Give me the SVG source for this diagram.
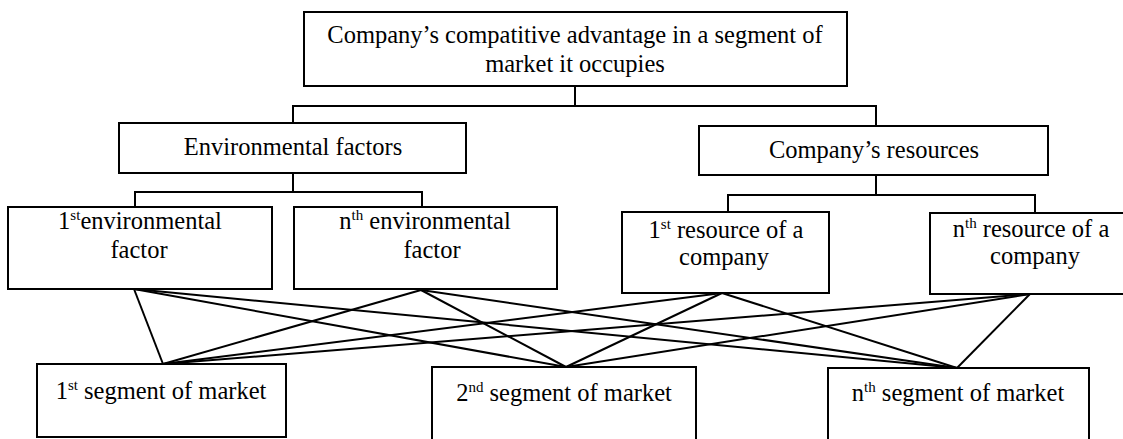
<svg xmlns="http://www.w3.org/2000/svg" width="1123" height="439" viewBox="0 0 1123 439">
  <style>
    .box { fill: #fff; stroke: #000; stroke-width: 2; }
    .wire { fill: none; stroke: #000; stroke-width: 2; }
    .lbl { font-family: "Liberation Serif", "Times New Roman", Times, "DejaVu Serif", serif; font-size: 24.5px; fill: #000; text-anchor: middle; }
    .sup { font-size: 15px; }
  </style>
  <rect width="1123" height="439" fill="#fff"/>

  <!-- hierarchy and cross connections -->
  <g id="connectors" class="wire">
    <polyline points="575,86 575,106"/>
    <polyline points="293,123 293,106 876,106 876,126"/>
    <polyline points="293,173 293,192"/>
    <polyline points="135,207 135,192 422,192 422,207"/>
    <polyline points="876,175 876,195"/>
    <polyline points="728,212 728,195 1035,195 1035,213"/>
    <!-- each factor / resource linked to every market segment -->
    <line x1="134" y1="289" x2="163" y2="364"/>
    <line x1="134" y1="289" x2="566" y2="367"/>
    <line x1="134" y1="289" x2="957" y2="368"/>
    <line x1="421" y1="290" x2="163" y2="364"/>
    <line x1="421" y1="290" x2="566" y2="367"/>
    <line x1="421" y1="290" x2="957" y2="368"/>
    <line x1="722" y1="293" x2="163" y2="364"/>
    <line x1="722" y1="293" x2="566" y2="367"/>
    <line x1="722" y1="293" x2="957" y2="368"/>
    <line x1="1030" y1="294" x2="163" y2="364"/>
    <line x1="1030" y1="294" x2="566" y2="367"/>
    <line x1="1030" y1="294" x2="957" y2="368"/>
  </g>

  <g id="advantage">
    <rect class="box" x="304" y="12" width="543" height="74"/>
    <text class="lbl" x="575" y="43">Company’s compatitive advantage in a segment of</text>
    <text class="lbl" x="575" y="72">market it occupies</text>
  </g>

  <g id="environmental-factors">
    <rect class="box" x="119" y="123" width="347" height="50"/>
    <text class="lbl" x="293" y="155">Environmental factors</text>
  </g>

  <g id="company-resources">
    <rect class="box" x="699" y="126" width="349" height="49"/>
    <text class="lbl" x="874" y="158">Company’s resources</text>
  </g>

  <g id="env-factor-1">
    <rect class="box" x="8" y="207" width="264" height="82"/>
    <text class="lbl" x="140" y="229">1<tspan class="sup" dy="-9">st</tspan><tspan dy="9">environmental</tspan></text>
    <text class="lbl" x="139" y="258">factor</text>
  </g>

  <g id="env-factor-n">
    <rect class="box" x="294" y="207" width="263" height="82"/>
    <text class="lbl" x="425" y="229">n<tspan class="sup" dy="-9">th</tspan><tspan dy="9"> environmental</tspan></text>
    <text class="lbl" x="432" y="258">factor</text>
  </g>

  <g id="resource-1">
    <rect class="box" x="622" y="212" width="207" height="81"/>
    <text class="lbl" x="726" y="238">1<tspan class="sup" dy="-9">st</tspan><tspan dy="9"> resource of a</tspan></text>
    <text class="lbl" x="724" y="265">company</text>
  </g>

  <g id="resource-n">
    <rect class="box" x="930" y="213" width="200" height="81"/>
    <text class="lbl" x="1031" y="237">n<tspan class="sup" dy="-9">th</tspan><tspan dy="9"> resource of a</tspan></text>
    <text class="lbl" x="1035" y="264">company</text>
  </g>

  <g id="segment-1">
    <rect class="box" x="37" y="364" width="249" height="73"/>
    <text class="lbl" x="161" y="399">1<tspan class="sup" dy="-9">st</tspan><tspan dy="9"> segment of market</tspan></text>
  </g>

  <g id="segment-2">
    <rect class="box" x="432" y="367" width="264" height="80"/>
    <text class="lbl" x="564" y="401">2<tspan class="sup" dy="-9">nd</tspan><tspan dy="9"> segment of market</tspan></text>
  </g>

  <g id="segment-n">
    <rect class="box" x="828" y="368" width="261" height="80"/>
    <text class="lbl" x="958" y="401">n<tspan class="sup" dy="-9">th</tspan><tspan dy="9"> segment of market</tspan></text>
  </g>
</svg>
